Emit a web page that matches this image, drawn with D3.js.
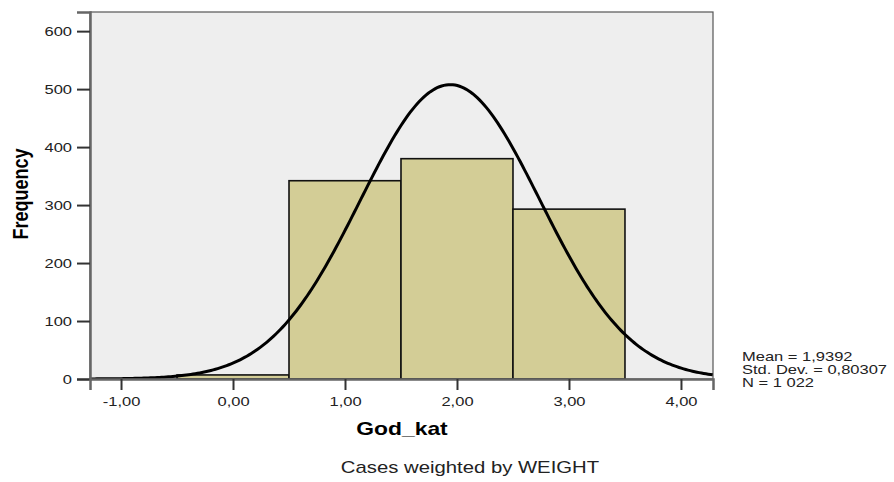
<!DOCTYPE html>
<html>
<head>
<meta charset="utf-8">
<script src="https://cdn.jsdelivr.net/npm/d3@7"></script>
<style>
  body { margin: 0; background: #fff; }
  text { font-family: "Liberation Sans", Arial, sans-serif; }
</style>
</head>
<body>
<div id="container"></div>
<script>
// histogram bins (bin centre, frequency)
const binCenters = [0, 1, 2, 3];
const frequencies = [7, 342, 380, 293];
const yTicks = [0, 100, 200, 300, 400, 500, 600];
const xTicks = [-1, 0, 1, 2, 3, 4];
const statLines = ["Mean = 1,9392", "Std. Dev. = 0,80307", "N = 1 022"];
const mean = 1.9392;
const sd = 0.80307;
const n = 1022;

const w = 894;
const h = 482;
const margin = { left: 90, top: 12, right: 181, bottom: 103 };
const stretch = 1.27; // text in the original is drawn wider than normal

const svg = d3.select("#container")
              .append("svg")
              .attr("width", w)
              .attr("height", h);

const x = d3.scaleLinear().domain([-1.277, 4.286]).range([margin.left, w - margin.right]);
const y = d3.scaleLinear().domain([0, 633]).range([h - margin.bottom, margin.top]);

const fmt = v => d3.format(".2f")(v).replace(".", ",").replace("\u2212", "-");

// plot background
svg.append("rect")
   .attr("x", x.range()[0])
   .attr("y", y.range()[1])
   .attr("width", x.range()[1] - x.range()[0])
   .attr("height", y.range()[0] - y.range()[1])
   .attr("fill", "#eeeeee")
   .attr("stroke", "#555")
   .attr("stroke-width", 1.2);

svg.append("clipPath")
   .attr("id", "clip")
   .append("rect")
   .attr("x", x.range()[0])
   .attr("y", y.range()[1])
   .attr("width", x.range()[1] - x.range()[0])
   .attr("height", y.range()[0] - y.range()[1]);

// bars
svg.selectAll("rect.bar")
   .data(binCenters)
   .enter()
   .append("rect")
   .attr("class", "bar")
   .attr("x", d => x(d - 0.5))
   .attr("y", (d, i) => y(frequencies[i]))
   .attr("width", d => x(d + 0.5) - x(d - 0.5))
   .attr("height", (d, i) => y(0) - y(frequencies[i]))
   .attr("fill", "#d3cd96")
   .attr("stroke", "#111")
   .attr("stroke-width", 1.6);

// normal curve
const curvePts = d3.range(x.domain()[0], x.domain()[1] + 0.01, 0.02).map(v => {
  const z = (v - mean) / sd;
  return [v, n * Math.exp(-0.5 * z * z) / (sd * Math.sqrt(2 * Math.PI))];
});
svg.append("path")
   .datum(curvePts)
   .attr("clip-path", "url(#clip)")
   .attr("fill", "none")
   .attr("stroke", "#000")
   .attr("stroke-width", 3)
   .attr("d", d3.line().x(d => x(d[0])).y(d => y(d[1])));

// axes
const yAxis = svg.append("g")
   .attr("transform", `translate(${x.range()[0]},0)`)
   .call(d3.axisLeft(y).tickValues(yTicks).tickSize(13).tickPadding(5));
const xAxis = svg.append("g")
   .attr("transform", `translate(0,${y(0)})`)
   .call(d3.axisBottom(x).tickValues(xTicks).tickFormat(fmt).tickSize(11).tickPadding(7));

[yAxis, xAxis].forEach(a => {
  a.select(".domain").attr("stroke", "#666").attr("stroke-width", 2.5);
  a.selectAll(".tick line").attr("stroke", "#333").attr("stroke-width", 2);
  a.selectAll(".tick text")
   .attr("fill", "#222")
   .style("font-size", "13px")
   .style("font-family", "'Liberation Sans', Arial, sans-serif")
   .each(function() {
     const t = d3.select(this);
     const tx = +t.attr("x") || 0;
     const ty = +t.attr("y") || 0;
     t.attr("x", 0).attr("y", 0)
      .attr("transform", `translate(${tx},${ty}) scale(${stretch},1)`);
   });
});

// titles
svg.append("text")
   .attr("transform", `translate(28,194) scale(${stretch},1) rotate(-90)`)
   .attr("text-anchor", "middle")
   .style("font-size", "18px")
   .style("font-weight", "bold")
   .text("Frequency");

svg.append("text")
   .attr("transform", `translate(402,435) scale(${stretch},1)`)
   .attr("text-anchor", "middle")
   .style("font-size", "18px")
   .style("font-weight", "bold")
   .text("God_kat");

svg.append("text")
   .attr("transform", `translate(470,473) scale(${stretch},1)`)
   .attr("text-anchor", "middle")
   .style("font-size", "16px")
   .attr("fill", "#222")
   .text("Cases weighted by WEIGHT");

svg.append("g")
   .selectAll("text")
   .data(statLines)
   .enter()
   .append("text")
   .attr("transform", (d, i) => `translate(742,${361 + i * 13}) scale(${stretch},1)`)
   .style("font-size", "13px")
   .attr("fill", "#222")
   .text(d => d);
</script>
</body>
</html>
